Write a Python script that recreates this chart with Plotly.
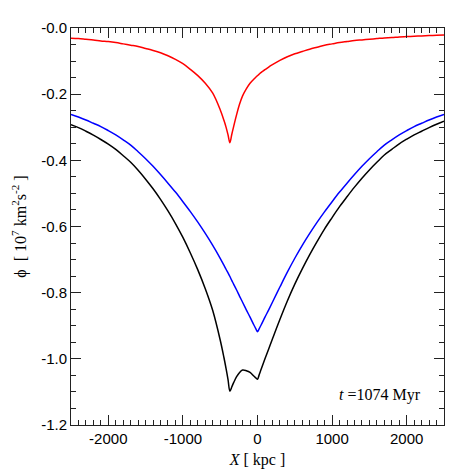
# %%
import plotly.graph_objects as go

# %%
# potential along the X axis (10^7 km^2 s^-2)
x_kpc = [-2500, -2400, -2300, -2200, -2100, -2000, -1900, -1800, -1700, -1600,
         -1500, -1400, -1300, -1200, -1100, -1000, -900, -800, -700, -600,
         -500, -450, -420, -395, -370, -345, -320, -280, -240, -200,
         -150, -100, -50, -20, 0, 20, 50, 100, 150, 200,
         300, 400, 500, 600, 700, 800, 900, 1000, 1100, 1200,
         1300, 1400, 1500, 1600, 1700, 1800, 1900, 2000, 2100, 2200,
         2300, 2400, 2500]

phi_sat = [-0.031, -0.032, -0.034, -0.036, -0.039, -0.041, -0.044, -0.048, -0.052, -0.056,
           -0.062, -0.068, -0.075, -0.084, -0.095, -0.108, -0.125, -0.144, -0.167, -0.197,
           -0.247, -0.279, -0.301, -0.323, -0.347, -0.322, -0.298, -0.262, -0.230, -0.205,
           -0.184, -0.167, -0.155, -0.148, -0.144, -0.140, -0.134, -0.126, -0.118, -0.111,
           -0.098, -0.087, -0.078, -0.071, -0.064, -0.058, -0.052, -0.048, -0.044, -0.041,
           -0.038, -0.036, -0.034, -0.032, -0.030, -0.029, -0.027, -0.026, -0.025, -0.024,
           -0.023, -0.022, -0.021]

phi_host = [-0.261, -0.269, -0.278, -0.288, -0.298, -0.310, -0.323, -0.338, -0.354, -0.374,
            -0.395, -0.418, -0.443, -0.469, -0.496, -0.525, -0.555, -0.587, -0.621, -0.657,
            -0.696, -0.717, -0.730, -0.740, -0.751, -0.763, -0.774, -0.792, -0.811, -0.829,
            -0.852, -0.874, -0.897, -0.910, -0.918, -0.910, -0.897, -0.874, -0.852, -0.829,
            -0.783, -0.738, -0.696, -0.657, -0.621, -0.587, -0.555, -0.525, -0.496, -0.469,
            -0.443, -0.418, -0.395, -0.374, -0.354, -0.338, -0.323, -0.310, -0.298, -0.288,
            -0.278, -0.269, -0.261]

phi_total = [-0.292, -0.301, -0.312, -0.324, -0.337, -0.351, -0.367, -0.386, -0.406, -0.430,
             -0.457, -0.486, -0.518, -0.553, -0.591, -0.633, -0.680, -0.731, -0.788, -0.854,
             -0.943, -0.996, -1.031, -1.063, -1.098, -1.085, -1.072, -1.054, -1.041, -1.034,
             -1.036, -1.041, -1.052, -1.058, -1.062, -1.050, -1.031, -1.000, -0.970, -0.940,
             -0.881, -0.825, -0.774, -0.728, -0.685, -0.645, -0.607, -0.573, -0.540, -0.510,
             -0.481, -0.454, -0.429, -0.406, -0.384, -0.367, -0.350, -0.336, -0.323, -0.312,
             -0.301, -0.291, -0.282]

x_ticks = [-2000, -1000, 0, 1000, 2000]
x_ticktext = ["-2000", "-1000", "0", "1000", "2000"]
y_ticks = [0.0, -0.2, -0.4, -0.6, -0.8, -1.0, -1.2]
y_ticktext = ["-0.0", "-0.2", "-0.4", "-0.6", "-0.8", "-1.0", "-1.2"]

# %%
fig = go.Figure()
for y, c, n in [(phi_sat, "#ff0000", "satellite"), (phi_host, "#0000ff", "host"),
                (phi_total, "#000000", "total")]:
    fig.add_trace(go.Scatter(x=x_kpc, y=y, mode="lines", name=n,
                             line=dict(color=c, width=1.5, shape="spline", smoothing=1.0)))

axis_style = dict(showline=True, linecolor="#222222", linewidth=1, mirror="allticks",
                  ticks="inside", ticklen=10, tickcolor="#222222", showgrid=False,
                  zeroline=False, tickfont=dict(family="Liberation Sans", size=15, color="black"))

fig.update_xaxes(range=[-2500, 2500], tickvals=x_ticks, ticktext=x_ticktext,
                 minor=dict(ticks="inside", ticklen=5, dtick=100, tick0=0, tickcolor="#222222"),
                 title=dict(text="<i>X</i> [ kpc ]", standoff=7,
                            font=dict(family="Liberation Serif", size=16, color="black")),
                 **axis_style)
fig.update_yaxes(range=[-1.2, 0.0], tickvals=y_ticks, ticktext=y_ticktext,
                 minor=dict(ticks="inside", ticklen=5, dtick=0.05, tick0=0, tickcolor="#222222"),
                 title=dict(text="ϕ  [ 10<sup>7</sup> km<sup>2</sup>s<sup>-2</sup> ]", standoff=10,
                            font=dict(family="Liberation Serif", size=16, color="black")),
                 **axis_style)

fig.add_annotation(text="<i>t</i> =1074 Myr", xref="paper", yref="paper", x=0.945, y=0.075,
                   xanchor="right", yanchor="middle", showarrow=False,
                   font=dict(family="Liberation Serif", size=16, color="black"))

# page body has an 8px margin, so the figure is 464 and sits at (8, 8)
fig.update_layout(width=464, height=464, template="none", showlegend=False,
                  plot_bgcolor="white", paper_bgcolor="white",
                  margin=dict(l=63, r=28, t=20, b=47))

fig.write_html("out.html")
